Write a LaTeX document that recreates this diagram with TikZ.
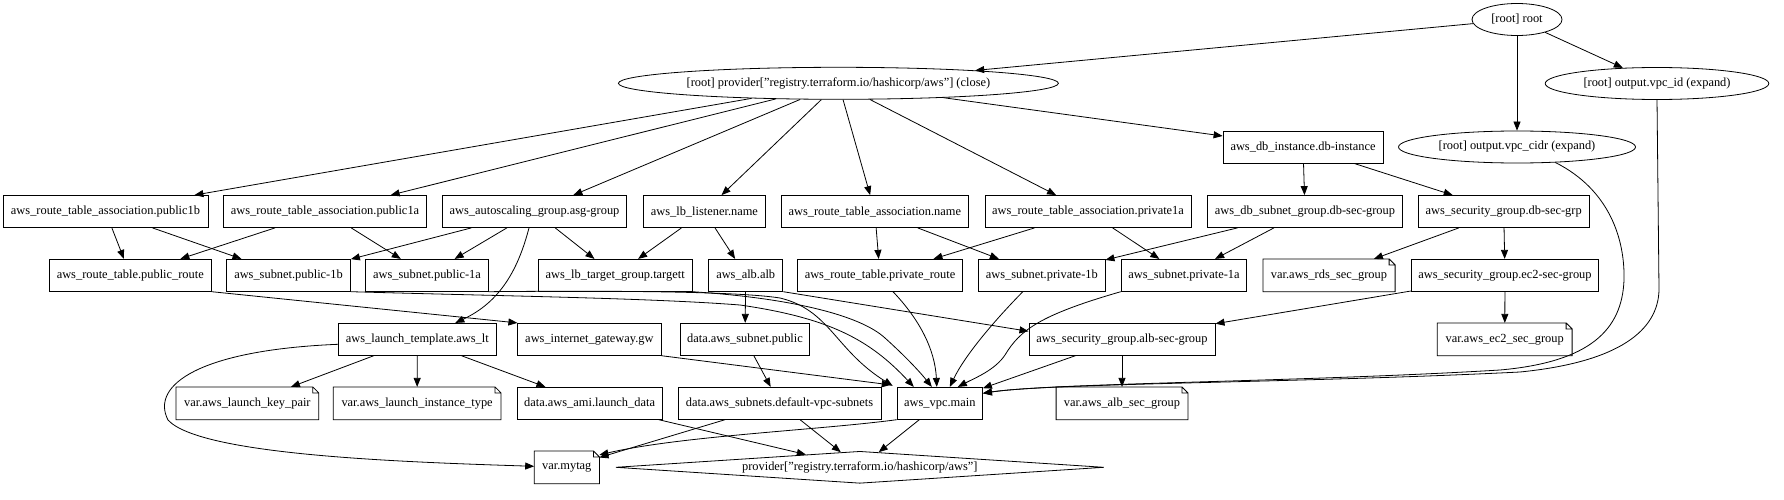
\documentclass[tikz,border=0pt]{standalone}
\usepackage{fontspec}
\setmainfont{Liberation Serif}
\usetikzlibrary{shapes.geometric, arrows.meta}

\begin{document}
\begin{tikzpicture}[
        x=1pt, y=-1pt,
        line width=0.8pt,
        every node/.style={font=\fontsize{12.4}{14}\selectfont, inner sep=0pt},
        resbox/.style={rectangle, minimum height=32pt, draw=black},
        oval/.style={ellipse, minimum height=32pt, draw=black},
        varnote/.style={rectangle, minimum height=32pt,
            append after command={\pgfextra{\draw[line width=0.8pt]
                (\tikzlastnode.north west) -- ([xshift=-6pt]\tikzlastnode.north east)
                -- ([yshift=-6pt]\tikzlastnode.north east) -- (\tikzlastnode.south east)
                -- (\tikzlastnode.south west) -- cycle
                ([xshift=-6pt]\tikzlastnode.north east) |- ([yshift=-6pt]\tikzlastnode.north east);}}},
        provdiam/.style={diamond, aspect=15.25, minimum width=488.3pt, minimum height=32pt, draw=black},
        arrow/.style={-{Triangle[length=9pt,width=7pt]}}
    ]
    \useasboundingbox (0,0) rectangle (1784,500);

    % Nodes
    \node (root) [oval, minimum width=90pt] at (1517,19.5) {[root] root};
    \node (prov) [oval, minimum width=440pt] at (838.4,83.3) {[root] provider["registry.terraform.io/hashicorp/aws"] (close)};
    \node (outid) [oval, minimum width=223.6pt] at (1657,83.5) {[root] output.vpc\_id (expand)};
    \node (dbinst) [resbox, minimum width=160pt] at (1303,147) {aws\_db\_instance.db-instance};
    \node (outcidr) [oval, minimum width=237pt] at (1517,147) {[root] output.vpc\_cidr (expand)};

    \node (rtapub1b) [resbox, minimum width=205pt] at (105.5,211.5) {aws\_route\_table\_association.public1b};
    \node (rtapub1a) [resbox, minimum width=203.2pt] at (325,211.5) {aws\_route\_table\_association.public1a};
    \node (asg) [resbox, minimum width=184.3pt] at (534.5,211.5) {aws\_autoscaling\_group.asg-group};
    \node (lblist) [resbox, minimum width=122pt] at (704.4,211.5) {aws\_lb\_listener.name};
    \node (rtaname) [resbox, minimum width=187pt] at (874.8,211.5) {aws\_route\_table\_association.name};
    \node (rtapriv1a) [resbox, minimum width=206pt] at (1088,211.5) {aws\_route\_table\_association.private1a};
    \node (dbsubnet) [resbox, minimum width=195pt] at (1305,211.5) {aws\_db\_subnet\_group.db-sec-group};
    \node (sgdb) [resbox, minimum width=170.6pt] at (1503.7,211.5) {aws\_security\_group.db-sec-grp};

    \node (rtpub) [resbox, minimum width=162pt] at (130.3,275.3) {aws\_route\_table.public\_route};
    \node (subpub1b) [resbox, minimum width=124pt] at (288.5,275.3) {aws\_subnet.public-1b};
    \node (subpub1a) [resbox, minimum width=122.4pt] at (427,275.3) {aws\_subnet.public-1a};
    \node (lbtg) [resbox, minimum width=153.4pt] at (615.2,275.3) {aws\_lb\_target\_group.targett};
    \node (alb) [resbox, minimum width=74.3pt] at (745.7,275.3) {aws\_alb.alb};
    \node (rtpriv) [resbox, minimum width=165pt] at (880,275.3) {aws\_route\_table.private\_route};
    \node (subpriv1b) [resbox, minimum width=126.5pt] at (1041.8,275.3) {aws\_subnet.private-1b};
    \node (subpriv1a) [resbox, minimum width=125.7pt] at (1184,275.3) {aws\_subnet.private-1a};
    \node (varrds) [varnote, minimum width=131.4pt] at (1329,275.3) {var.aws\_rds\_sec\_group};
    \node (sgec2) [resbox, minimum width=187.7pt] at (1505,275.3) {aws\_security\_group.ec2-sec-group};

    \node (lt) [resbox, minimum width=158pt] at (417.3,339.3) {aws\_launch\_template.aws\_lt};
    \node (igw) [resbox, minimum width=143.2pt] at (589.4,339.3) {aws\_internet\_gateway.gw};
    \node (dsubpub) [resbox, minimum width=129.3pt] at (745,339.3) {data.aws\_subnet.public};
    \node (sgalb) [resbox, minimum width=186.2pt] at (1122,339.3) {aws\_security\_group.alb-sec-group};
    \node (varec2) [varnote, minimum width=134pt] at (1504.7,339.3) {var.aws\_ec2\_sec\_group};

    \node (varkey) [varnote, minimum width=142pt] at (247.4,403.3) {var.aws\_launch\_key\_pair};
    \node (vartype) [varnote, minimum width=167pt] at (417.1,403.3) {var.aws\_launch\_instance\_type};
    \node (dami) [resbox, minimum width=145.2pt] at (589.6,403.3) {data.aws\_ami.launch\_data};
    \node (dsubnets) [resbox, minimum width=203pt] at (779.5,403.3) {data.aws\_subnets.default-vpc-subnets};
    \node (vpc) [resbox, minimum width=85.4pt] at (939.8,403.3) {aws\_vpc.main};
    \node (varalb) [varnote, minimum width=131pt] at (1122,403.3) {var.aws\_alb\_sec\_group};

    \node (vartag) [varnote, minimum width=64.4pt] at (566.8,467.3) {var.mytag};
    \node (provd) [provdiam] at (859.8,467.3) {provider["registry.terraform.io/hashicorp/aws"]};

    % Arrows
    \draw [arrow] (root) -- (prov);
    \draw [arrow] (root) -- (outcidr);
    \draw [arrow] (root) -- (outid);

    \draw [arrow] (prov) -- ([xshift=-14pt]rtapub1b.north east);
    \draw [arrow] (prov) -- (rtapub1a);
    \draw [arrow] (prov) -- (asg);
    \draw [arrow] (prov) -- (lblist);
    \draw [arrow] (prov) -- (rtaname);
    \draw [arrow] (prov) -- (rtapriv1a);
    \draw [arrow] (prov) -- (dbinst);

    \draw [arrow] (dbinst) -- (dbsubnet);
    \draw [arrow] (dbinst) -- (sgdb);

    \draw [arrow] (rtapub1b) -- (rtpub);
    \draw [arrow] (rtapub1b) -- (subpub1b);
    \draw [arrow] (rtapub1a) -- (rtpub);
    \draw [arrow] (rtapub1a) -- (subpub1a);
    \draw [arrow] (asg) -- (subpub1b);
    \draw [arrow] (asg) -- (subpub1a);
    \draw [arrow] (asg) -- (lbtg);
    \draw [arrow] ([xshift=-5.5pt]asg.south) .. controls (518,270) and (500,302) .. ([xshift=38pt]lt.north);
    \draw [arrow] (lblist) -- (lbtg);
    \draw [arrow] (lblist) -- (alb);
    \draw [arrow] (rtaname) -- (rtpriv);
    \draw [arrow] (rtaname) -- (subpriv1b);
    \draw [arrow] (rtapriv1a) -- (rtpriv);
    \draw [arrow] (rtapriv1a) -- (subpriv1a);
    \draw [arrow] (dbsubnet) -- (subpriv1b);
    \draw [arrow] (dbsubnet) -- (subpriv1a);
    \draw [arrow] (sgdb) -- (varrds);
    \draw [arrow] (sgdb) -- (sgec2);

    \draw [arrow] (rtpub.south east) -- (igw.north west);
    \draw [arrow] (alb) -- (dsubpub);
    \draw [arrow] (alb.south east) -- ([yshift=8pt]sgalb.west);
    \draw [arrow] (sgec2) -- (sgalb);
    \draw [arrow] (sgec2) -- (varec2);

    \draw [arrow] (lt) -- (varkey);
    \draw [arrow] (lt) -- (vartype);
    \draw [arrow] (lt) -- (dami);
    \draw [arrow] ([yshift=-5pt]lt.west) .. controls (200,350) and (150,385) .. (168,420) .. controls (200,455) and (400,462) .. ([yshift=1pt]vartag.west);
    \draw [arrow] (dsubpub) -- (dsubnets);
    \draw [arrow] (sgalb) -- (varalb);

    % edges into the vpc
    \draw [arrow] (subpub1b.south east) .. controls (500,296) and (650,298) .. (740,305) .. controls (830,318) and (870,340) .. ([xshift=-26pt]vpc.north);
    \draw [arrow] (subpub1a.south east) .. controls (560,291) and (730,290) .. (780,298) .. controls (830,310) and (835,350) .. ([xshift=-4pt,yshift=1pt]vpc.north west);
    \draw [arrow] (lbtg.south east) .. controls (790,298) and (860,315) .. (885,338) .. controls (905,356) and (920,372) .. ([xshift=-8pt]vpc.north);
    \draw [arrow] (igw.south east) -- ([xshift=-6pt,yshift=2pt]vpc.north west);
    \draw [arrow] ([xshift=13pt]rtpriv.south) .. controls (920,320) and (935,350) .. ([xshift=-3pt]vpc.north);
    \draw [arrow] ([xshift=-19pt]subpriv1b.south) .. controls (995,320) and (965,355) .. ([xshift=10pt]vpc.north);
    \draw [arrow] (subpriv1a.south west) .. controls (1040,315) and (1020,330) .. (1005,355) .. controls (995,370) and (975,378) .. ([xshift=18pt]vpc.north);
    \draw [arrow] (sgalb) -- (vpc);
    \draw [arrow] (outcidr.-22) .. controls (1610,190) and (1625,240) .. (1624,280) .. controls (1622,330) and (1590,362) .. (1500,370) .. controls (1300,382) and (1050,383) .. ([yshift=10pt]vpc.east);
    \draw [arrow] (outid.south) -- (1659,290) .. controls (1658,330) and (1620,362) .. (1520,372) .. controls (1300,383) and (1050,383) .. ([yshift=10pt]vpc.east);

    % bottom row
    \draw [arrow] (dami) -- (provd);
    \draw [arrow] (dsubnets) -- (provd);
    \draw [arrow] (vpc) -- (provd);
    \draw [arrow] (dsubnets) -- (vartag);
    \draw [arrow] (vpc.south west) .. controls (820,430) and (680,436) .. ([yshift=-4pt]vartag.north east);

    \end{tikzpicture}
\end{document}
